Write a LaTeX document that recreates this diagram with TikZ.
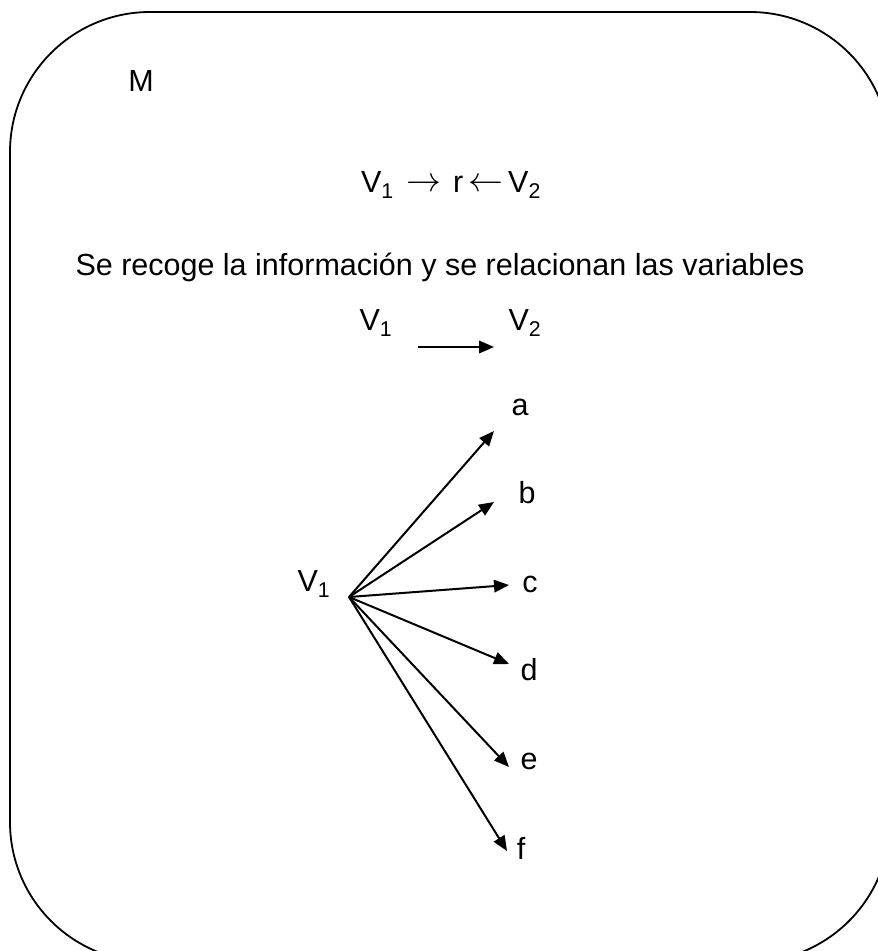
\documentclass[tikz,border=0pt]{standalone}
\usepackage{fontspec}
\setmainfont{Liberation Sans}
\usetikzlibrary{arrows.meta}
\newcommand{\bigra}{\raisebox{0.5pt}{\scalebox{1.4}{$\rightarrow$}}}
\newcommand{\bigla}{\raisebox{0.5pt}{\scalebox{1.4}{$\leftarrow$}}}
\tikzset{
  lbl/.style={inner sep=0pt, font=\fontsize{30.5}{36}\selectfont},
  arr/.style={line width=2pt, -{Triangle[length=15pt,width=12.5pt]}},
  frame/.style={line width=1.8pt, rounded corners=140pt}
}
\begin{document}
\begin{tikzpicture}[x=1pt,y=-1pt]
\useasboundingbox (0,0) rectangle (878,951);
\begin{scope}
\clip (0,0) rectangle (878,951);
\draw[frame] (10,12) rectangle (890,962);
\end{scope}
\node[lbl] (M) at (141,81) {M};
\node[lbl, anchor=base] (eq) at (451,192) {V\textsubscript{1}\hspace{0.4em}\bigra\hspace{0.4em}r\,\bigla\,V\textsubscript{2}};
\node[lbl, anchor=base] (txt) at (440,275) {Se recoge la información y se relacionan las variables};
\node[lbl, anchor=base] (v1t) at (376,330) {V\textsubscript{1}};
\node[lbl, anchor=base] (v2t) at (525,330) {V\textsubscript{2}};
\coordinate (hs) at (418,347);
\coordinate (he) at (494,347);
\draw[arr] (hs) -- (he);
\node[lbl] (v1) at (314,584) {V\textsubscript{1}};
\coordinate (o) at (349,597);
\coordinate (ta) at (494,431);
\coordinate (tb) at (494,502);
\coordinate (tc) at (509,585);
\coordinate (td) at (509,664);
\coordinate (te) at (509,767);
\coordinate (tf) at (507,851);
\node[lbl] (a) at (520,407) {a};
\node[lbl] (b) at (527,493) {b};
\node[lbl] (c) at (530,584) {c};
\node[lbl] (d) at (529,670) {d};
\node[lbl] (e) at (529,761) {e};
\node[lbl] (f) at (521,848) {f};
\foreach \t in {ta,tb,tc,td,te,tf} \draw[arr] (o) -- (\t);
\end{tikzpicture}
\end{document}
